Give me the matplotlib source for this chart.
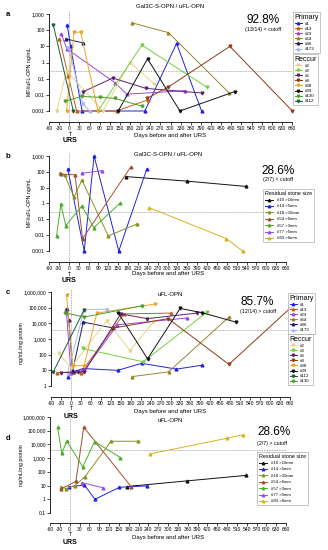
import matplotlib
matplotlib.use("Agg")
import matplotlib.pyplot as plt
from matplotlib.lines import Line2D
from matplotlib.ticker import FixedLocator, NullLocator

plt.rcParams['font.family'] = ['Liberation Sans', 'DejaVu Sans']

W, H = 328, 550

# ---------------- data ----------------
x_ticks = list(range(-60, 661, 30))

# panel a: Gal3C-S-OPN / uFL-OPN, primary & recurrence patients
a_ids = ['#1', '#13', '#23', '#64', '#96', '#173', '#2', '#3', '#6', '#8', '#38', '#39', '#130', '#112']
a_days = {
    '#1':   [-6, 4, 38, 224, 318, 392],
    '#13':  [-29, -3, 22, 140, 234],
    '#23':  [-24, -7, 136, 170, 343],
    '#64':  [187, 294, 474],
    '#96':  [-10, 42],
    '#173': [-3, 40, 60],
    '#2':   [-37, -8, 100, 180, 250],
    '#3':   [85, 215, 407],
    '#6':   [40, 129, 227, 392],
    '#8':   [230, 293, 476, 661],
    '#38':  [-8, 14, 34, 85],
    '#39':  [145, 232, 328, 491],
    '#130': [-12, 37, 91, 136, 215],
    '#112': [-47, 12],
}
a_vals = {
    '#1':   [200, 10, 0.001, 0.001, 15, 0.001],
    '#13':  [30, 0.15, 0.001, 0.001, 0.005],
    '#23':  [60, 7, 0.055, 0.011, 0.018],
    '#64':  [280, 70, 0.013],
    '#96':  [29, 16],
    '#173': [9, 0.003, 0.001],
    '#2':   [0.001, 0.3, 0.001, 1.0, 0.05],
    '#3':   [0.001, 12, 0.03],
    '#6':   [0.015, 0.11, 0.025, 0.013],
    '#8':   [0.006, 0.03, 10, 0.001],
    '#38':  [0.001, 75, 75, 0.001],
    '#39':  [0.001, 1.7, 0.001, 0.016],
    '#130': [0.004, 0.008, 0.007, 0.006, 0.002],
    '#112': [200, 0.001],
}

# panel c: uFL-OPN, primary & recurrence patients
c_days = {
    '#1':   [-8, 5, 37, 141, 213, 318, 394],
    '#13':  [-43, 10, 30, 128, 160, 300],
    '#23':  [-14, 0, 40, 140, 350],
    '#64':  [185, 294, 476],
    '#96':  [-12, -6, 5, 37, 128],
    '#173': [-10, 40, 108],
    '#2':   [-37, 0, 108, 178, 248],
    '#3':   [35, 218, 409],
    '#6':   [-30, 20, 40, 150, 230, 380],
    '#8':   [128, 293, 476, 660],
    '#38':  [-13, 5, 40, 78, 253],
    '#39':  [143, 231, 329, 394, 497],
    '#112': [-53, 40],
    '#130': [-18, 40, 213],
}
c_vals = {
    '#1':   [4, 8, 13, 10, 28, 12, 21],
    '#13':  [7, 8, 7, 5000, 40000, 45000],
    '#23':  [80000, 7, 10, 8000, 22000],
    '#64':  [4, 8, 25000],
    '#96':  [80000, 16000, 9, 12000, 5000],
    '#173': [7, 75000, 80000],
    '#2':   [120, 15, 15000, 180, 12000],
    '#3':   [250, 35, 50000],
    '#6':   [7, 8, 8, 40000, 20000, 45000],
    '#8':   [5000, 20000, 24, 90000],
    '#38':  [600000, 20, 20, 45000, 170000],
    '#39':  [44000, 55, 90000, 48000, 12000],
    '#112': [8, 75000],
    '#130': [48000, 25000, 130000],
}

primary_ids = ['#1', '#13', '#23', '#64', '#96', '#173']
reccur_ids_a = ['#2', '#3', '#6', '#8', '#38', '#39', '#130', '#112']
reccur_ids_c = ['#2', '#3', '#6', '#8', '#38', '#39', '#112', '#130']

pat_colors = {
    '#1': '#2222dd', '#13': '#c0601e', '#23': '#a244e6', '#64': '#9a8430',
    '#96': '#1c1c70', '#173': '#a8b8f0', '#2': '#e6d58a', '#3': '#74d040',
    '#6': '#5c2070', '#8': '#8e3a18', '#38': '#eda422', '#39': '#111111',
    '#130': '#4e9e2a', '#112': '#1f5c38',
}
pat_markers = {
    '#1': '^', '#13': '^', '#23': '^', '#64': '^', '#96': '^', '#173': '^',
    '#2': 'v', '#3': 'v', '#6': 'v', '#8': 'v', '#38': 'v', '#39': 'v',
    '#130': 'v', '#112': 'v',
}

# panels b & d: residual stone size patients
res_ids = ['#10', '#14', '#18', '#54', '#57', '#77', '#83']
res_labels = ['#10 >10mm', '#14 >5mm', '#18 >10mm', '#54 >6mm', '#57 >3mm', '#77 >5mm', '#83 >6mm']
res_colors = ['#111111', '#2222dd', '#8a9420', '#a0522d', '#4cae2a', '#9a4ae8', '#d8b420']
res_days = {
    '#10': [174, 358, 538],
    '#14': [-3, 47, 77, 152, 237],
    '#18': [-27, -12, 16, 40, 120, 207],
    '#54': [-25, 19, 42, 188],
    '#57': [-37, -24, -9, 40, 76, 155],
    '#77': [39, 101],
    '#83': [244, 479, 528],
}
b_vals = {
    '#10': [50, 26, 12],
    '#14': [150, 0.001, 1000, 0.001, 150],
    '#18': [80, 60, 2.5, 30, 0.009, 0.05],
    '#54': [72, 65, 0.006, 200],
    '#57': [0.009, 0.9, 0.04, 0.7, 0.03, 1.0],
    '#77': [80, 120],
    '#83': [0.55, 0.006, 0.001],
}
d_days = {
    '#10': [174, 358, 538],
    '#14': [-3, 45, 77, 152, 237],
    '#18': [-27, -12, 16, 47, 126, 209],
    '#54': [-25, 19, 43, 188],
    '#57': [-37, -24, -9, 40, 76, 155],
    '#77': [39, 101],
    '#83': [244, 479, 528],
}
d_vals = {
    '#10': [8.5, 22, 55],
    '#14': [8, 11, 1, 7.5, 9.5],
    '#18': [8, 6, 10, 45, 17000, 17000],
    '#54': [6, 20, 180000, 8],
    '#57': [180000, 2200, 18000, 230, 16000, 1100],
    '#77': [16, 7],
    '#83': [2000, 28000, 50000],
}

cutoff_ratio = 0.3
cutoff_ufl = 4000

# ---------------- figure ----------------
fig = plt.figure(figsize=(W / 100, H / 100), dpi=100)


def fx(px):
    return px / W


def fy(py):
    return 1 - py / H


def make_axes(l, r, t, b, ylim, yticks, yticklabels, offset_px):
    ax = fig.add_axes([fx(l), fy(b), (r - l) / W, (b - t) / H])
    ax.set_xlim(-60, 660)
    ax.set_yscale('log')
    ax.set_ylim(*ylim)
    ax.spines['top'].set_visible(False)
    ax.spines['right'].set_visible(False)
    ax.spines['bottom'].set_position(('outward', offset_px * 0.72))
    for s in ('left', 'bottom'):
        ax.spines[s].set_linewidth(0.6)
    ax.xaxis.set_major_locator(FixedLocator(x_ticks))
    ax.set_xticklabels([str(v) for v in x_ticks])
    ax.yaxis.set_major_locator(FixedLocator(yticks))
    ax.yaxis.set_minor_locator(NullLocator())
    ax.set_yticklabels(yticklabels)
    ax.tick_params(axis='both', labelsize=3.6, length=2, width=0.5, pad=1)
    ax.patch.set_alpha(0)
    # vertical URS dotted line
    ax.axvline(0, ymin=-offset_px / (b - t), ymax=1.03, color='#999999', lw=0.6,
               ls=(0, (1, 1)), clip_on=False, zorder=0)
    return ax


def draw_series(ax, days, vals, color, marker):
    ax.plot(days, vals, color=color, lw=0.7, marker=marker, ms=2.0,
            mec=color, mfc=color, clip_on=False, zorder=3)


def urs(xpx, ypx_arrow, ypx_text):
    fig.text(fx(xpx), fy(ypx_arrow), '↑', ha='center', va='center', fontsize=4.2,
             family=['DejaVu Sans'])
    fig.text(fx(xpx), fy(ypx_text), 'URS', ha='center', va='center', fontsize=5,
             fontweight='bold')


def pat_legend(ids, title, x, y):
    handles = [Line2D([0], [0], color=pat_colors[i], marker=pat_markers[i], ms=1.8, lw=0.7)
               for i in ids]
    leg = fig.legend(handles, ids, loc='upper left', bbox_to_anchor=(fx(x), fy(y)),
                     title=title, fontsize=3.2, title_fontsize=5, frameon=True,
                     fancybox=False, edgecolor='#999999', borderpad=0.35,
                     labelspacing=0.22, handlelength=1.7, handletextpad=0.6,
                     borderaxespad=0, alignment='left')
    leg.get_frame().set_linewidth(0.5)
    return leg


def res_legend(x, y):
    handles = [Line2D([0], [0], color=c, marker='^', ms=1.8, lw=0.7) for c in res_colors]
    leg = fig.legend(handles, res_labels, loc='upper left', bbox_to_anchor=(fx(x), fy(y)),
                     title='Residual stone size', fontsize=3.1, title_fontsize=3.9,
                     frameon=True, fancybox=False, edgecolor='#999999', borderpad=0.4,
                     labelspacing=0.55, handlelength=2.0, handletextpad=0.8,
                     borderaxespad=0, alignment='left')
    leg.get_frame().set_linewidth(0.5)
    return leg


ratio_ticks = [0.001, 0.01, 0.1, 1, 10, 100, 1000]
ratio_labels = ['0.001', '0.01', '0.1', '1', '10', '100', '1,000']

# ---- panel a ----
axa = make_axes(49, 292, 14, 111, (0.001, 1000), ratio_ticks, ratio_labels, 11)
for pid in a_ids:
    draw_series(axa, a_days[pid], a_vals[pid], pat_colors[pid], pat_markers[pid])
axa.axhline(cutoff_ratio, color='#999999', lw=0.6, ls=(0, (1, 1)), zorder=0)
fig.text(fx(6), fy(14), 'a', fontsize=5.5, fontweight='bold', va='center')
fig.text(fx(170), fy(7), 'Gal3C-S-OPN / uFL-OPN', fontsize=4.3, ha='center', va='center')
fig.text(fx(29), fy(72), 'MFI/uFL-OPN ng/mL', fontsize=3.8, rotation=90, ha='center', va='center')
fig.text(fx(170), fy(135), 'Days before and after URS', fontsize=4.3, ha='center', va='center')
fig.text(fx(263), fy(20), '92.8%', fontsize=8.5, ha='center', va='center')
fig.text(fx(263), fy(29), '(13/14) < cutoff', fontsize=3.8, ha='center', va='center')
urs(70, 134, 141)
pat_legend(primary_ids, 'Primary', 293, 12)
pat_legend(reccur_ids_a, 'Reccur', 293, 54)

# ---- panel b ----
axb = make_axes(49, 286, 156, 251, (0.001, 1000), ratio_ticks, ratio_labels, 11)
for pid, col in zip(res_ids, res_colors):
    draw_series(axb, res_days[pid], b_vals[pid], col, '^')
axb.axhline(cutoff_ratio, color='#999999', lw=0.6, ls=(0, (1, 1)), zorder=0)
fig.text(fx(6), fy(157), 'b', fontsize=5.5, fontweight='bold', va='center')
fig.text(fx(168), fy(155), 'Gal3C-S-OPN / uFL-OPN', fontsize=4.3, ha='center', va='center')
fig.text(fx(29), fy(203), 'MFI/uFL-OPN ng/mL', fontsize=3.8, rotation=90, ha='center', va='center')
fig.text(fx(168), fy(274), 'Days before and after URS', fontsize=4.3, ha='center', va='center')
fig.text(fx(278), fy(171), '28.6%', fontsize=8.5, ha='center', va='center')
fig.text(fx(278), fy(180), '(2/7) < cutoff', fontsize=3.8, ha='center', va='center')
urs(69, 274, 281)
res_legend(263, 189)

# ---- panel c ----
ufl_ticks_c = [1, 10, 100, 1000, 10000, 100000, 1000000]
ufl_labels_c = ['1', '10', '100', '1,000', '10,000', '100,000', '1,000,000']
axc = make_axes(51, 290, 292, 386, (1, 1e6), ufl_ticks_c, ufl_labels_c, 11)
for pid in primary_ids + reccur_ids_c:
    draw_series(axc, c_days[pid], c_vals[pid], pat_colors[pid], pat_markers[pid])
axc.axhline(cutoff_ufl, color='#999999', lw=0.6, ls=(0, (1, 1)), zorder=0)
fig.text(fx(6), fy(293), 'c', fontsize=5.5, fontweight='bold', va='center')
fig.text(fx(170), fy(294), 'uFL-OPN', fontsize=4.3, ha='center', va='center')
fig.text(fx(22), fy(343), 'ng/mL/mg protein', fontsize=3.8, rotation=90, ha='center', va='center')
fig.text(fx(170), fy(411), 'Days before and after URS', fontsize=4.3, ha='center', va='center')
fig.text(fx(257), fy(302), '85.7%', fontsize=8.5, ha='center', va='center')
fig.text(fx(258), fy(312), '(12/14) > cutoff', fontsize=3.8, ha='center', va='center')
urs(71, 409, 416)
pat_legend(primary_ids, 'Primary', 288, 293)
pat_legend(reccur_ids_c, 'Reccur', 288, 334)

# ---- panel d ----
ufl_ticks_d = [0.1, 1, 10, 100, 1000, 10000, 100000, 1000000]
ufl_labels_d = ['0.1', '1', '10', '100', '1,000', '10,000', '100,000', '1,000,000']
axd = make_axes(50, 286, 417, 513, (0.1, 1e6), ufl_ticks_d, ufl_labels_d, 10)
for pid, col in zip(res_ids, res_colors):
    draw_series(axd, d_days[pid], d_vals[pid], col, '^')
axd.axhline(cutoff_ufl, color='#999999', lw=0.6, ls=(0, (1, 1)), zorder=0)
fig.text(fx(6), fy(438), 'd', fontsize=5.5, fontweight='bold', va='center')
fig.text(fx(170), fy(421), 'uFL-OPN', fontsize=4.3, ha='center', va='center')
fig.text(fx(21), fy(465), 'ng/mL/mg protein', fontsize=3.8, rotation=90, ha='center', va='center')
fig.text(fx(168), fy(537), 'Days before and after URS', fontsize=4.3, ha='center', va='center')
fig.text(fx(257), fy(432), '28.6%', fontsize=8.5, ha='left', va='center')
fig.text(fx(257), fy(443), '(2/7) > cutoff', fontsize=3.8, ha='left', va='center')
urs(70, 534, 543)
res_legend(257, 452)

fig.savefig('out.png', dpi=100)
